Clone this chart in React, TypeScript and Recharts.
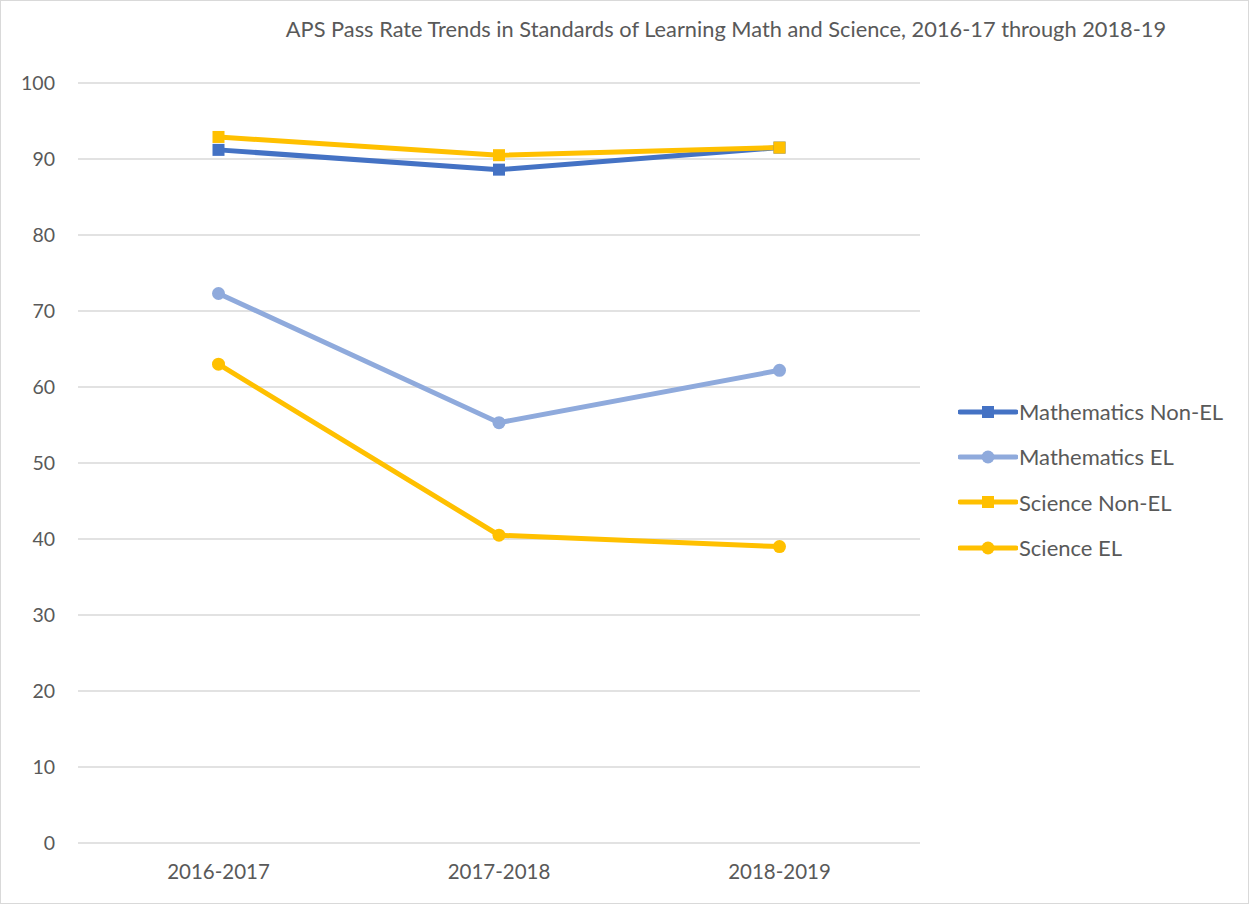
import React from 'react';
import { LineChart, Line, XAxis, YAxis, CartesianGrid, Legend } from 'recharts';

const years = ['2016-2017', '2017-2018', '2018-2019'];
const mathNonEL = [91.2, 88.6, 91.5];
const mathEL = [72.3, 55.3, 62.2];
const sciNonEL = [92.9, 90.5, 91.5];
const sciEL = [63.0, 40.5, 39.0];
const yTicks = [0, 10, 20, 30, 40, 50, 60, 70, 80, 90, 100];

const data = years.map((year, i) => ({
  year,
  mathNonEL: mathNonEL[i],
  mathEL: mathEL[i],
  sciNonEL: sciNonEL[i],
  sciEL: sciEL[i],
}));

const SERIES = [
  { key: 'mathNonEL', name: 'Mathematics Non-EL', color: '#4472C4', shape: 'square' },
  { key: 'mathEL', name: 'Mathematics EL', color: '#8FAADC', shape: 'circle' },
  { key: 'sciNonEL', name: 'Science Non-EL', color: '#FFC000', shape: 'square' },
  { key: 'sciEL', name: 'Science EL', color: '#FFC000', shape: 'circle' },
];

const FONT = 'Lato, "Open Sans", "Liberation Sans", sans-serif';
const TEXT = '#595959';

const makeDot = (shape: string, color: string) => (props: any) => {
  const { cx, cy, index } = props;
  if (cx == null || cy == null) return <g key={index} />;
  if (shape === 'square') {
    return <rect key={index} x={cx - 6} y={cy - 6} width={12} height={12} fill={color} />;
  }
  return <circle key={index} cx={cx} cy={cy} r={6.5} fill={color} />;
};

const LegendContent = () => (
  <div style={{ fontFamily: FONT, fontSize: 22, color: TEXT }}>
    {SERIES.map((s) => (
      <div key={s.key} style={{ display: 'flex', alignItems: 'center', height: 45.3 }}>
        <svg width={60} height={20} style={{ marginRight: 1 }}>
          <line x1={2} y1={10} x2={58} y2={10} stroke={s.color} strokeWidth={5} strokeLinecap="round" />
          {s.shape === 'square' ? (
            <rect x={24} y={4} width={12} height={12} fill={s.color} />
          ) : (
            <circle cx={30} cy={10} r={6.5} fill={s.color} />
          )}
        </svg>
        <span>{s.name}</span>
      </div>
    ))}
  </div>
);

export default function App() {
  return (
    <div
      style={{
        position: 'absolute',
        left: 0,
        top: 0,
        width: 1247,
        height: 902,
        border: '1px solid #d9d9d9',
        background: '#fff',
        fontFamily: FONT,
      }}
    >
      <div
        style={{
          position: 'absolute',
          left: 0,
          width: 1450,
          top: 14,
          textAlign: 'center',
          fontSize: 21.8,
          color: TEXT,
          whiteSpace: 'nowrap',
        }}
      >
        APS Pass Rate Trends in Standards of Learning Math and Science, 2016-17 through 2018-19
      </div>
      <LineChart
        width={1247}
        height={902}
        data={data}
        margin={{ top: 82, right: 38, bottom: 20, left: 27 }}
      >
        <CartesianGrid vertical={false} stroke="#d9d9d9" strokeWidth={1.5} />
        <XAxis
          dataKey="year"
          axisLine={false}
          tickLine={false}
          padding={{ left: 140.5, right: 140.5 }}
          height={40}
          tickMargin={15}
          tick={{ fill: TEXT, fontSize: 20.5, fontFamily: FONT }}
        />
        <YAxis
          domain={[0, 100]}
          ticks={yTicks}
          axisLine={false}
          tickLine={false}
          width={50}
          tickMargin={17}
          tick={{ fill: TEXT, fontSize: 19.5, fontFamily: FONT }}
        />
        <Legend
          layout="vertical"
          align="right"
          verticalAlign="top"
          content={<LegendContent />}
          wrapperStyle={{ left: 957, top: 388, width: 290 }}
        />
        {SERIES.map((s) => (
          <Line
            key={s.key}
            dataKey={s.key}
            name={s.name}
            type="linear"
            stroke={s.color}
            strokeWidth={5}
            dot={makeDot(s.shape, s.color)}
            activeDot={false}
            isAnimationActive={false}
          />
        ))}
      </LineChart>
    </div>
  );
}
